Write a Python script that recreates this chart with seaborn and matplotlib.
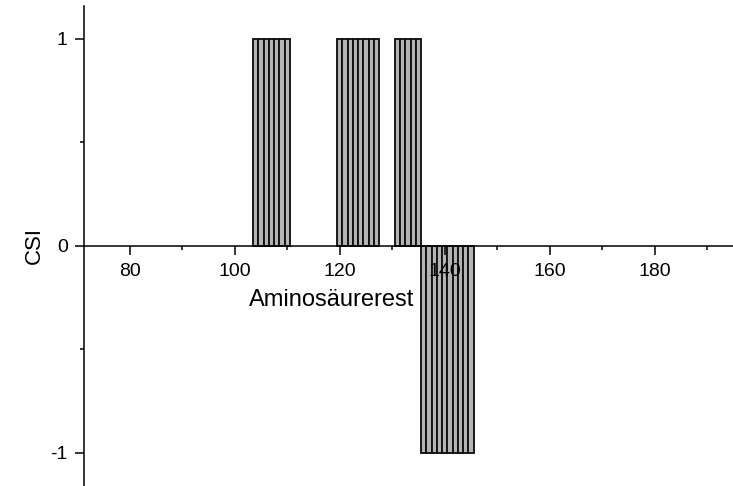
import matplotlib
matplotlib.use("Agg")
import matplotlib.pyplot as plt
from matplotlib.ticker import MultipleLocator
import seaborn as sns
import pandas as pd

# Chemical shift index per amino-acid residue (residues with CSI = 0 omitted)
residues = [104, 105, 106, 107, 108, 109, 110,
            120, 121, 122, 123, 124, 125, 126, 127,
            131, 132, 133, 134, 135,
            136, 137, 138, 139, 140, 141, 142, 143, 144, 145]
csi = [1, 1, 1, 1, 1, 1, 1,
       1, 1, 1, 1, 1, 1, 1, 1,
       1, 1, 1, 1, 1,
       -1, -1, -1, -1, -1, -1, -1, -1, -1, -1]

x_major_ticks = [80, 100, 120, 140, 160, 180]
y_major_ticks = [-1, 0, 1]
y_tick_labels = ["-1", "0", "1"]

df = pd.DataFrame({"Aminosäurerest": residues, "CSI": csi})

sns.set_style("ticks")
label_font = ["Liberation Sans Narrow", "Liberation Sans", "DejaVu Sans"]
tick_font = ["Liberation Sans", "DejaVu Sans"]

fig = plt.figure(figsize=(7.33, 4.86), dpi=100)
ax = fig.add_axes([0.115, 0.0, 0.885, 0.988])

sns.barplot(data=df, x="Aminosäurerest", y="CSI", native_scale=True,
            width=1.0, color="#b4b4b4", saturation=1.0,
            edgecolor="#111111", linewidth=1.35, errorbar=None, ax=ax)

ax.set_xlim(71.35, 194.9)
ax.set_ylim(-1.16, 1.16)

# Axes crossing at CSI = 0
ax.spines["bottom"].set_position(("data", 0))
ax.spines["top"].set_visible(False)
ax.spines["right"].set_visible(False)
for side in ("left", "bottom"):
    ax.spines[side].set_linewidth(1.1)
    ax.spines[side].set_color("black")
ax.set_axisbelow(False)

ax.set_xticks(x_major_ticks)
ax.xaxis.set_minor_locator(MultipleLocator(10))
ax.set_yticks(y_major_ticks)
ax.set_yticklabels(y_tick_labels)
ax.yaxis.set_minor_locator(MultipleLocator(0.5))

ax.tick_params(axis="both", which="major", direction="out", length=6.5,
               width=1.1, color="black", labelsize=14, labelcolor="black")
ax.tick_params(axis="both", which="minor", direction="out", length=3.2,
               width=1.1, color="black")
ax.tick_params(axis="x", which="major", pad=6)
ax.tick_params(axis="y", which="major", pad=5.5)
for lbl in ax.get_xticklabels() + ax.get_yticklabels():
    lbl.set_family(tick_font)

ax.set_xlabel("Aminosäurerest", fontsize=17, family=label_font, color="black")
ax.xaxis.set_label_coords(0.382, 0.3875)
ax.xaxis.label.set_va("center")

ax.set_ylabel("CSI", fontsize=16, family=label_font, color="black")
ax.yaxis.set_label_coords(-0.0775, 0.5)
ax.yaxis.label.set_va("center")

fig.savefig("out.png", dpi=100)
